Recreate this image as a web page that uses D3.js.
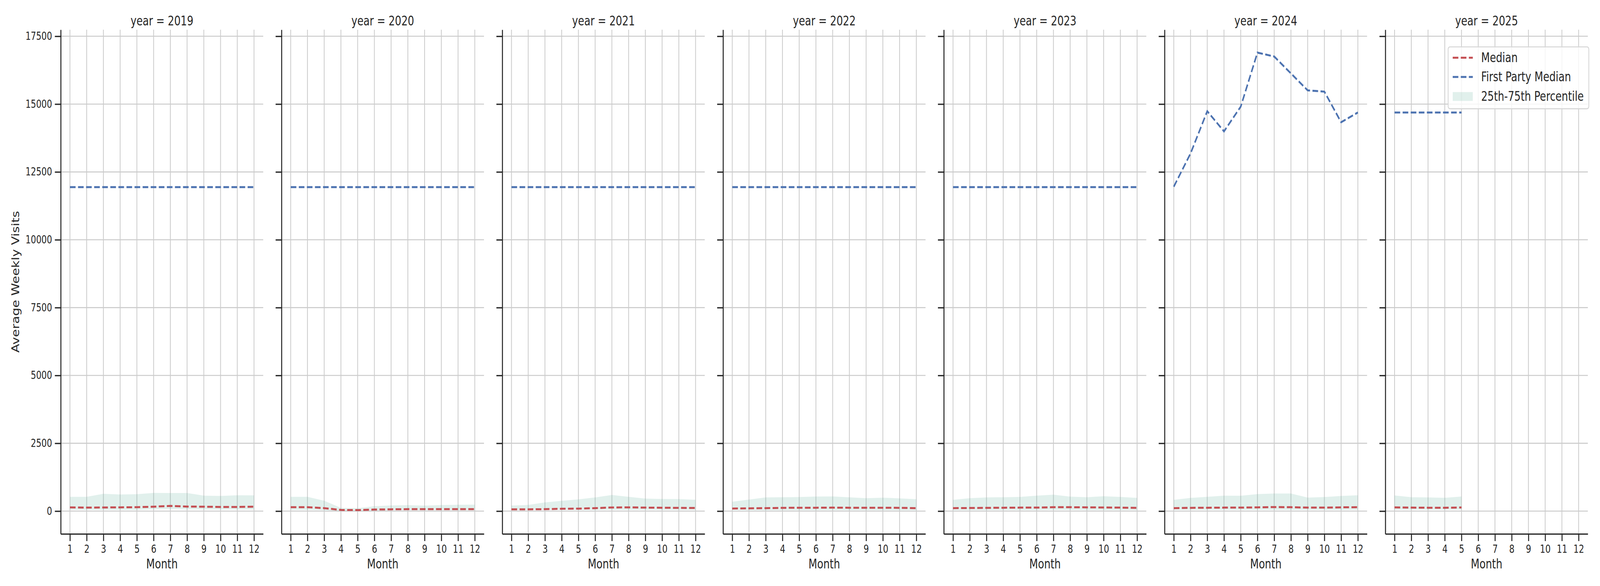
<!DOCTYPE html>
<html>
<head>
<meta charset="utf-8">
<script src="https://cdn.jsdelivr.net/npm/d3@7"></script>
<style>
  html, body { margin: 0; padding: 0; background: #ffffff; overflow: hidden; width: 100%; height: 100%; }
  svg { display: block; position: absolute; left: 0; top: 0; width: 100vw; height: 100vh; }
  text { font-family: "DejaVu Sans", sans-serif; fill: #262626; }
</style>
</head>
<body>
<svg id="chart" viewBox="0 0 5250 1500" preserveAspectRatio="none"></svg>
<script>
// ---------------- DATA ----------------
const years = [2019, 2020, 2021, 2022, 2023, 2024, 2025];
const months = [1, 2, 3, 4, 5, 6, 7, 8, 9, 10, 11, 12];
const yTicks = [0, 2500, 5000, 7500, 10000, 12500, 15000, 17500];

const median2019 = [139, 129, 134, 139, 144, 163, 192, 168, 163, 153, 153, 163];
const median2020 = [144, 144, 110, 43, 38, 58, 67, 72, 72, 72, 72, 72];
const median2021 = [67, 67, 72, 86, 91, 110, 134, 139, 129, 124, 120, 115];
const median2022 = [96, 101, 110, 120, 125, 125, 129, 125, 125, 125, 120, 110];
const median2023 = [110, 115, 120, 125, 129, 129, 144, 144, 139, 134, 129, 120];
const median2024 = [110, 120, 125, 129, 129, 139, 149, 144, 129, 129, 139, 144];
const median2025 = [139, 129, 125, 125, 134];

const p75_2019 = [528, 528, 638, 614, 624, 672, 667, 667, 571, 557, 585, 581];
const p75_2020 = [528, 528, 383, 120, 110, 182, 211, 220, 201, 225, 235, 240];
const p75_2021 = [206, 226, 322, 379, 432, 504, 595, 528, 461, 446, 442, 417];
const p75_2022 = [345, 427, 504, 513, 518, 537, 542, 508, 475, 494, 470, 441];
const p75_2023 = [413, 475, 504, 513, 523, 571, 604, 532, 513, 547, 523, 485];
const p75_2024 = [413, 485, 528, 571, 566, 628, 648, 648, 499, 518, 557, 585];
const p75_2025 = [576, 513, 504, 489, 537];

const p25_2019 = [48, 48, 43, 43, 43, 67, 72, 67, 58, 58, 58, 58];
const p25_2020 = [43, 43, 33, 4, 4, 19, 29, 29, 29, 29, 29, 29];
const p25_2021 = [43, 43, 43, 43, 43, 43, 48, 43, 43, 43, 43, 43];
const p25_2022 = [43, 38, 33, 33, 33, 33, 33, 33, 33, 33, 33, 33];
const p25_2023 = [38, 38, 38, 38, 38, 38, 43, 43, 38, 38, 38, 38];
const p25_2024 = [43, 43, 43, 43, 43, 43, 43, 43, 43, 43, 43, 43];
const p25_2025 = [53, 53, 53, 53, 53];

const firstParty2019 = [11940, 11940, 11940, 11940, 11940, 11940, 11940, 11940, 11940, 11940, 11940, 11940];
const firstParty2020 = [11940, 11940, 11940, 11940, 11940, 11940, 11940, 11940, 11940, 11940, 11940, 11940];
const firstParty2021 = [11940, 11940, 11940, 11940, 11940, 11940, 11940, 11940, 11940, 11940, 11940, 11940];
const firstParty2022 = [11940, 11940, 11940, 11940, 11940, 11940, 11940, 11940, 11940, 11940, 11940, 11940];
const firstParty2023 = [11940, 11940, 11940, 11940, 11940, 11940, 11940, 11940, 11940, 11940, 11940, 11940];
const firstParty2024 = [11957, 13180, 14738, 13994, 14907, 16897, 16753, 16130, 15506, 15458, 14331, 14691];
const firstParty2025 = [14691, 14691, 14691, 14691, 14691];

const medians = [median2019, median2020, median2021, median2022, median2023, median2024, median2025];
const p75s = [p75_2019, p75_2020, p75_2021, p75_2022, p75_2023, p75_2024, p75_2025];
const p25s = [p25_2019, p25_2020, p25_2021, p25_2022, p25_2023, p25_2024, p25_2025];
const firstParties = [firstParty2019, firstParty2020, firstParty2021, firstParty2022, firstParty2023, firstParty2024, firstParty2025];

const legendLabels = ["Median", "First Party Median", "25th-75th Percentile"];

// ---------------- LAYOUT ----------------
const plotTop = 76, plotBottom = 1366.7;
const panelLeft0 = 199.3, panelStep = 724.4, panelW = 664.4;
const COL_MED = "#c44e52", COL_FP = "#4c72b0", COL_BAND = "rgb(106,180,160)";
const INK = "#262626", GRID = "#cccccc";
const DASH = "18.5,8";

const svg = d3.select("#chart");

// shared y scale with matplotlib-like 5% margins
const allVals = [];
years.forEach((y, i) => {
  allVals.push(...medians[i], ...p75s[i], ...p25s[i], ...firstParties[i]);
});
const vmin = d3.min(allVals), vmax = d3.max(allVals);
const pad = (vmax - vmin) * 0.05;
const yScale = d3.scaleLinear().domain([vmin - pad, vmax + pad]).range([plotBottom, plotTop]);
const xScale = d3.scaleLinear().domain([1 - 0.55, 12 + 0.55]).range([0, panelW]);

years.forEach((year, i) => {
  const g = svg.append("g").attr("transform", `translate(${panelLeft0 + i * panelStep},0)`);

  // grid
  g.append("g").selectAll("line").data(months).join("line")
    .attr("x1", d => xScale(d)).attr("x2", d => xScale(d))
    .attr("y1", plotTop).attr("y2", plotBottom)
    .attr("stroke", GRID).attr("stroke-width", 2.6);
  g.append("g").selectAll("line").data(yTicks).join("line")
    .attr("x1", 0).attr("x2", panelW)
    .attr("y1", d => yScale(d)).attr("y2", d => yScale(d))
    .attr("stroke", GRID).attr("stroke-width", 2.6);

  const mData = medians[i].map((v, k) => ({ m: months[k], v }));
  const bData = p75s[i].map((v, k) => ({ m: months[k], hi: v, lo: p25s[i][k] }));
  const fData = firstParties[i].map((v, k) => ({ m: months[k], v }));

  // band
  g.append("path").datum(bData)
    .attr("d", d3.area().x(d => xScale(d.m)).y0(d => yScale(d.lo)).y1(d => yScale(d.hi)))
    .attr("fill", COL_BAND).attr("fill-opacity", 0.2);

  const line = d3.line().x(d => xScale(d.m)).y(d => yScale(d.v));
  g.append("path").datum(mData).attr("d", line)
    .attr("fill", "none").attr("stroke", COL_MED).attr("stroke-width", 5)
    .attr("stroke-dasharray", DASH);
  g.append("path").datum(fData).attr("d", line)
    .attr("fill", "none").attr("stroke", COL_FP).attr("stroke-width", 5)
    .attr("stroke-dasharray", DASH);

  // axes
  const yAxis = d3.axisLeft(yScale).tickValues(yTicks).tickSize(19.3).tickSizeOuter(0).tickPadding(9)
    .tickFormat(i === 0 ? d3.format("d") : () => "");
  const ya = g.append("g").call(yAxis);
  const xAxis = d3.axisBottom(xScale).tickValues(months).tickSize(18.3).tickSizeOuter(0).tickPadding(10)
    .tickFormat(d3.format("d"));
  const xa = g.append("g").attr("transform", `translate(0,${plotBottom})`).call(xAxis);
  [ya, xa].forEach(a => {
    a.select(".domain").attr("stroke", INK).attr("stroke-width", 3.3);
    a.selectAll(".tick line").attr("stroke", INK).attr("stroke-width", 3.3);
    a.selectAll(".tick text").attr("fill", INK).style("font-family", "DejaVu Sans").style("font-size", "27.5px");
  });

  // title
  g.append("text").attr("x", panelW / 2).attr("y", 65).attr("text-anchor", "middle")
    .style("font-size", "33px").text(`year = ${year}`);
  // x label
  g.append("text").attr("x", panelW / 2).attr("y", 1455).attr("text-anchor", "middle")
    .style("font-size", "33px").text("Month");
});

// y label
svg.append("text").attr("transform", `translate(63.3,${(plotTop + plotBottom) / 2}) rotate(-90)`)
  .attr("text-anchor", "middle").style("font-size", "33px").text("Average Weekly Visits");

// legend
const lg = svg.append("g");
lg.append("rect").attr("x", 4751.7).attr("y", 120).attr("width", 461.6).attr("height", 158.3)
  .attr("rx", 6).attr("fill", "#ffffff").attr("fill-opacity", 0.8)
  .attr("stroke", "#d6d6d6").attr("stroke-width", 2.7);
const baselines = [159.3, 208.5, 257.7];
lg.append("line").attr("x1", 4766.7).attr("x2", 4832.7).attr("y1", 147.7).attr("y2", 147.7)
  .attr("stroke", COL_MED).attr("stroke-width", 5).attr("stroke-dasharray", DASH);
lg.append("line").attr("x1", 4766.7).attr("x2", 4832.7).attr("y1", 197).attr("y2", 197)
  .attr("stroke", COL_FP).attr("stroke-width", 5).attr("stroke-dasharray", DASH);
lg.append("rect").attr("x", 4766.7).attr("y", 235.7).attr("width", 66).attr("height", 22.6)
  .attr("fill", COL_BAND).attr("fill-opacity", 0.2);
legendLabels.forEach((t, k) => {
  lg.append("text").attr("x", 4860).attr("y", baselines[k]).style("font-size", "33px").text(t);
});
</script>
</body>
</html>
